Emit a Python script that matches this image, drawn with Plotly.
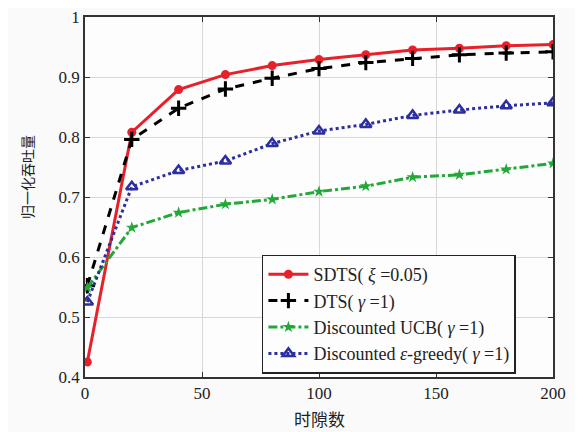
import plotly.graph_objects as go

x = [1, 20, 40, 60, 80, 100, 120, 140, 160, 180, 200]
sdts = [0.425, 0.808, 0.879, 0.904, 0.919, 0.929, 0.937, 0.945, 0.948, 0.952, 0.954]
dts = [0.552, 0.796, 0.848, 0.880, 0.898, 0.914, 0.924, 0.931, 0.937, 0.940, 0.942]
ucb = [0.549, 0.649, 0.674, 0.688, 0.696, 0.709, 0.718, 0.733, 0.737, 0.746, 0.756]
egreedy = [0.525, 0.717, 0.744, 0.760, 0.789, 0.810, 0.821, 0.836, 0.845, 0.852, 0.857]

names = ["SDTS( <i>ξ</i> =0.05)", "DTS( <i>γ</i> =1)", "Discounted UCB( <i>γ</i> =1)",
         "Discounted <i>ε</i>-greedy( <i>γ</i> =1)"]
xticks = [0, 50, 100, 150, 200]
yticks = [0.4, 0.5, 0.6, 0.7, 0.8, 0.9, 1]
ytick_text = ["0.4", "0.5", "0.6", "0.7", "0.8", "0.9", "1"]
xtitle = "时隙数"
ytitle = "归一化吞吐量"

serif = "Liberation Serif"
cjk = "Noto Sans CJK SC"
fig = go.Figure()
fig.add_trace(go.Scatter(x=x, y=sdts, name=names[0], mode="lines+markers",
                         line=dict(color="#e8202a", width=3),
                         marker=dict(symbol="circle", size=9, color="#e8202a")))
fig.add_trace(go.Scatter(x=x, y=dts, name=names[1], mode="lines+markers",
                         line=dict(color="black", width=3, dash="dash"),
                         marker=dict(symbol="cross-thin", size=11, line=dict(color="black", width=3))))
fig.add_trace(go.Scatter(x=x, y=ucb, name=names[2], mode="lines+markers",
                         line=dict(color="#22a838", width=3, dash="dashdot"),
                         marker=dict(symbol="star", size=9, color="#22a838")))
fig.add_trace(go.Scatter(x=x, y=egreedy, name=names[3], mode="lines+markers",
                         line=dict(color="#2b2fa0", width=3, dash="dot"),
                         marker=dict(symbol="triangle-up-open", size=10, color="#2b2fa0", line=dict(width=2.5))))

axis_common = dict(showline=True, linecolor="#333", linewidth=1.5, mirror="ticks",
                   ticks="inside", ticklen=5, tickcolor="#333", automargin=False,
                   ticklabeloverflow="allow",
                   showgrid=True, gridcolor="#d8d8d8", gridwidth=1, zeroline=False,
                   tickfont=dict(family=serif, size=17, color="#222"))
fig.update_xaxes(range=[0, 200], tickvals=xticks, **axis_common)
fig.update_yaxes(range=[0.4, 1], tickvals=yticks, ticktext=ytick_text, **axis_common)

fig.add_annotation(text=xtitle, xref="paper", yref="paper", x=0.5, y=0,
                   xanchor="center", yanchor="middle", yshift=-41, showarrow=False,
                   font=dict(family=cjk, size=17, color="#222"))
fig.add_annotation(text=ytitle, xref="paper", yref="paper", x=0, y=(377 - 177) / 360,
                   xanchor="center", yanchor="middle", xshift=-58, textangle=-90, showarrow=False,
                   font=dict(family=cjk, size=14, color="#222"))

# page body has an 8px margin, so shift the margins to keep the plot area in place
fig.update_layout(
    width=583, height=432,
    font=dict(family=serif, color="#222"),
    margin=dict(l=77, r=38, t=9, b=63),
    paper_bgcolor="#fafafa", plot_bgcolor="#fdfdfd",
    legend=dict(x=0.378, y=0.175, xanchor="left", yanchor="middle",
                bgcolor="#fdfdfd", bordercolor="#222", borderwidth=1.5,
                font=dict(family=serif, size=18, color="#222"),
                tracegroupgap=0, itemwidth=40),
    showlegend=True,
)
fig.write_html("out.html")
